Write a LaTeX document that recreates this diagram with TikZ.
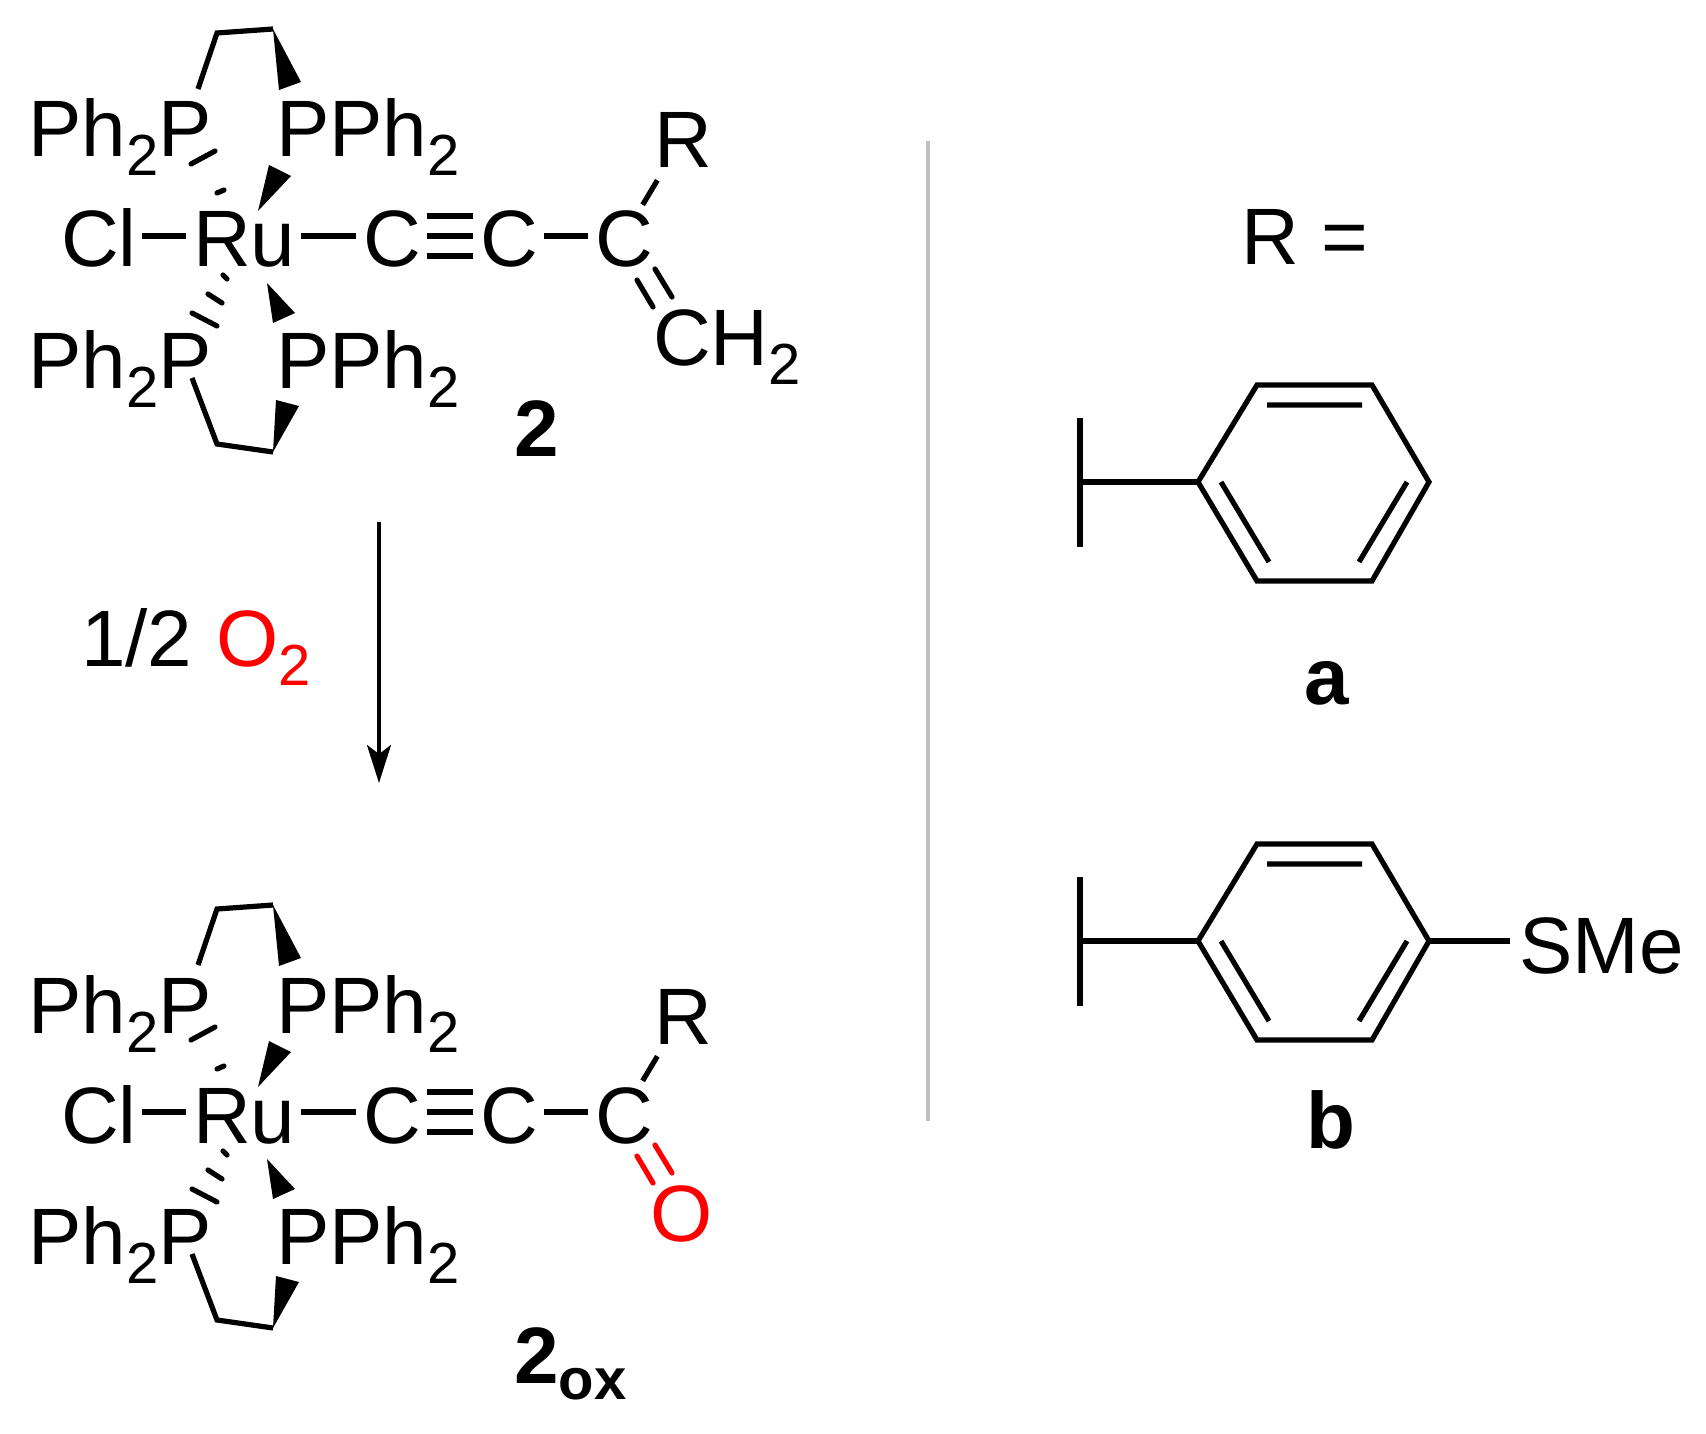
\documentclass[tikz,border=0pt]{standalone}
\usepackage{fontspec}
\setmainfont{Liberation Sans}
\usetikzlibrary{arrows.meta}
\newcommand{\subtwo}{\raisebox{-19pt}{\fontsize{58}{58}\selectfont 2}}
\tikzset{
    atom/.style={inner sep=0pt,anchor=base west,text height=62pt,text depth=0pt,font=\fontsize{80}{84}\selectfont},
    tag/.style={atom,font=\fontsize{80}{84}\selectfont\bfseries},
    bondline/.style={line width=5.2pt,line join=miter},
    bond/.style={bondline,shorten <=5.5pt,shorten >=7pt},
    hash/.style={line width=5.2pt,line cap=round}
}
\newcommand{\rucore}{
    \node[atom] (phtl) at (28,157) {Ph\subtwo P};
    \node[atom] (phtr) at (276,157) {PPh\subtwo};
    \node[atom] (phbl) at (28,388) {Ph\subtwo P};
    \node[atom] (phbr) at (276,388) {PPh\subtwo};
    \node[atom] (cl) at (61,267) {Cl};
    \node[atom] (ru) at (193,267) {Ru};
    \node[atom] (ca) at (363,267) {C};
    \node[atom] (cb) at (480,267) {C};
    \node[atom] (cc) at (595,267) {C};
    \node[atom] (rr) at (654,168) {R};
    \draw[bond] (cl.east) -- (ru.west);
    \draw[bond] (ru.east) -- (ca.west);
    \draw[bond] (cb.east) -- (cc.west);
    \foreach \s in {-20,0,20}
        \draw[bond] ([yshift=\s pt]ca.east) -- ([yshift=\s pt]cb.west);
    \draw[bondline,shorten >=14pt] (cc) -- (rr);
    % upper and lower chelate rings
    \coordinate (ta) at (198,89);
    \coordinate (tb) at (217,33);
    \coordinate (tc) at (273,29);
    \coordinate (td) at (279,90);
    \coordinate (te) at (301,82);
    \coordinate (ba) at (192,378);
    \coordinate (bb) at (217,444);
    \coordinate (bc) at (273,452);
    \coordinate (bd) at (276,400);
    \coordinate (be) at (299,406);
    \draw[bondline] (ta) -- (tb) -- (tc);
    \draw[bondline] (ba) -- (bb) -- (bc);
    \fill (tc) -- (td) -- (te) -- cycle;
    \fill (bc) -- (bd) -- (be) -- cycle;
    % wedges next to Ru
    \coordinate (wa) at (258,211);
    \coordinate (wb) at (269,165);
    \coordinate (wc) at (291,176);
    \coordinate (wd) at (267,283);
    \coordinate (we) at (273,323);
    \coordinate (wf) at (295,313);
    \fill (wa) -- (wb) -- (wc) -- cycle;
    \fill (wd) -- (we) -- (wf) -- cycle;
    % hashed bonds
    \foreach \a/\b in {{191,164}/{215,151},{217,193}/{224,190},
                       {223,275}/{227,279},{208,294}/{222,303},{192,313}/{217,326}}
        \draw[hash] (\a) -- (\b);
    % ends of the double bond on the last carbon
    \coordinate (da) at (637,280);
    \coordinate (db) at (653,307);
    \coordinate (dc) at (655,269);
    \coordinate (dd) at (672,297);
}
\begin{document}
\begin{tikzpicture}[x=1pt,y=-1pt]
    \useasboundingbox (0,0) rectangle (1706,1434);
    \begin{scope}[name prefix=two-]
        \rucore
        \node[atom] (ch) at (653,365) {CH\subtwo};
        \draw[bondline,line cap=round] (da) -- (db) (dc) -- (dd);
        \node[tag] (lab) at (514,456) {2};
    \end{scope}
    \begin{scope}[shift={(0,876)},name prefix=ox-]
        \rucore
        \node[atom,text=red] (oo) at (650,365) {O};
        \draw[bondline,line cap=round,red] (da) -- (db) (dc) -- (dd);
        \node[tag] (lab) at (514,507) {2\raisebox{-16pt}{\fontsize{58}{58}\selectfont ox}};
    \end{scope}
    % reaction arrow
    \coordinate (arrowtop) at (379,522);
    \coordinate (arrowend) at (379,783);
    \draw[line width=3.5pt,-{Stealth[length=38pt,width=24pt,inset=9pt]}] (arrowtop) -- (arrowend);
    \node[atom] (half) at (81,666) {1/2};
    \node[atom,text=red] (otwo) at (216,666) {O\subtwo};
    % separator
    \coordinate (sepa) at (928,141);
    \coordinate (sepb) at (928,1121);
    \draw[line width=4.5pt,color=black!25] (sepa) -- (sepb);
    \node[atom] (req) at (1241,265) {R =};
    % substituents
    \foreach \s/\n in {0/a,459/b}{
        \begin{scope}[shift={(0,\s)},name prefix=ring\n-]
            \coordinate (stopa) at (1080,418);
            \coordinate (stopb) at (1080,547);
            \coordinate (stem) at (1080,482);
            \coordinate (va) at (1198,482);
            \coordinate (vb) at (1257,385);
            \coordinate (vc) at (1372,385);
            \coordinate (vd) at (1429,482);
            \coordinate (ve) at (1372,581);
            \coordinate (vf) at (1257,581);
            \draw[bondline] (stopa) -- (stopb);
            \draw[bondline] (stem) -- (va);
            \draw[bondline] (va) -- (vb) -- (vc) -- (vd) -- (ve) -- (vf) -- cycle;
            \coordinate (ia) at (1267,405);
            \coordinate (ib) at (1362,405);
            \coordinate (ic) at (1221,482);
            \coordinate (id) at (1269,562);
            \coordinate (ie) at (1407,482);
            \coordinate (if) at (1359,562);
            \draw[bondline] (ia) -- (ib) (ic) -- (id) (ie) -- (if);
        \end{scope}
    }
    \node[tag] (laba) at (1304,704) {a};
    \node[tag] (labb) at (1306,1148) {b};
    \node[atom] (sme) at (1519,973) {SMe};
    \draw[bondline,shorten >=9pt] (ringb-vd) -- (ringb-vd -| sme.west);
\end{tikzpicture}
\end{document}
